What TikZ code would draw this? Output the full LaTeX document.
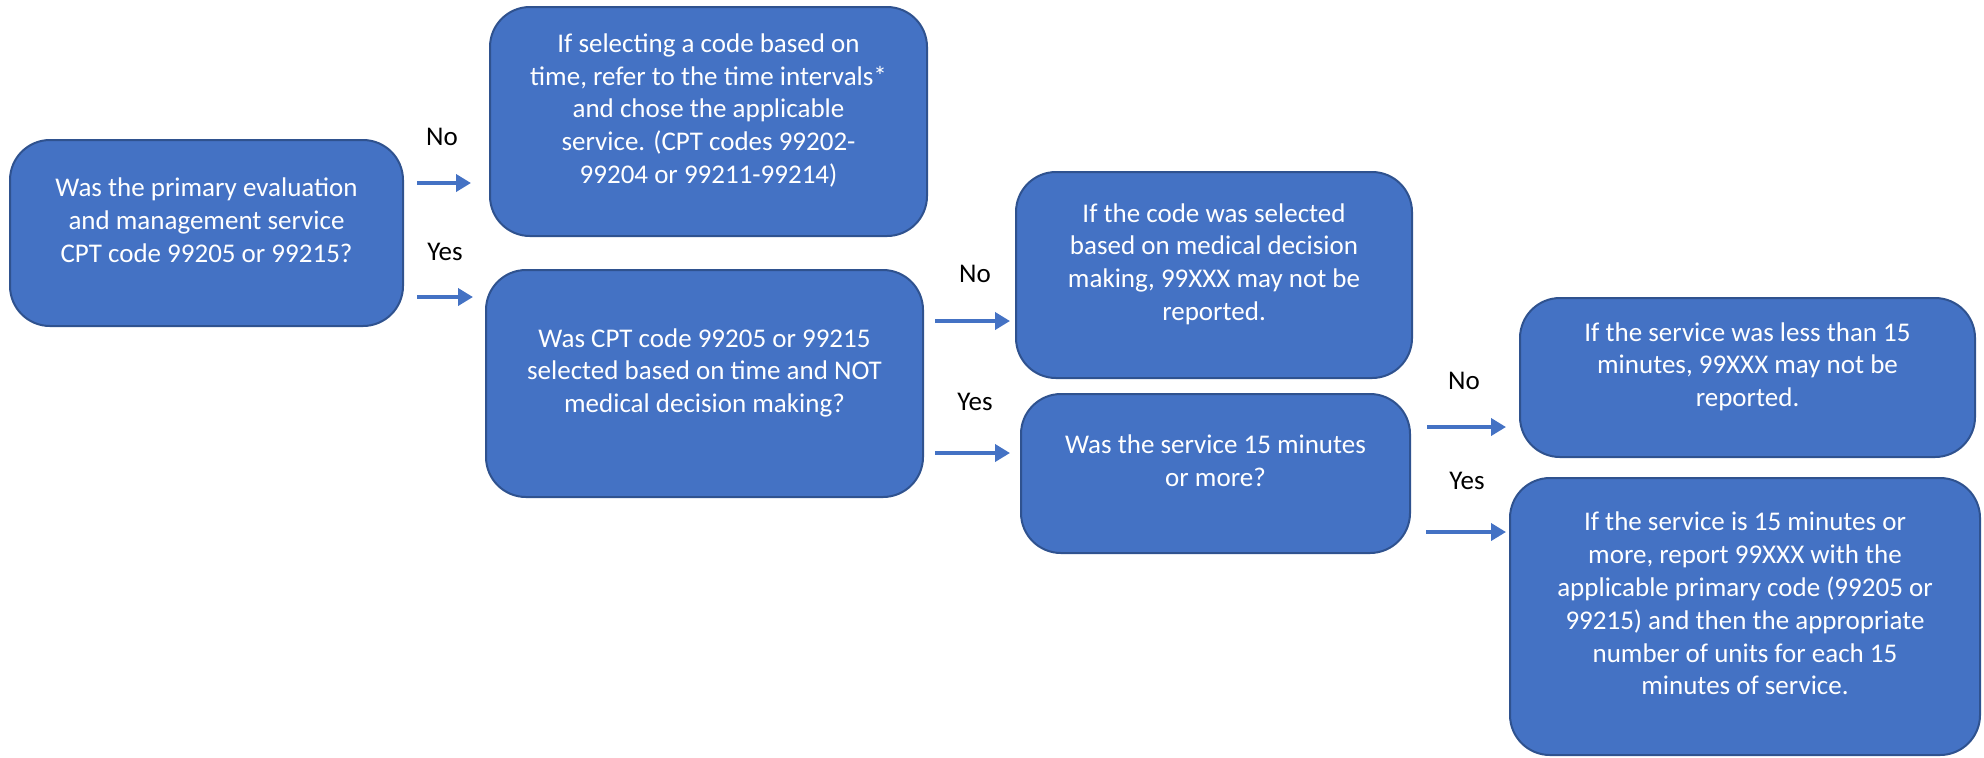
\documentclass[tikz,border=0pt]{standalone}
\usepackage{fontspec}
\setmainfont{Carlito}
\usetikzlibrary{arrows.meta}

\definecolor{boxblue}{HTML}{4472C4}
\definecolor{boxedge}{HTML}{2F528F}

\tikzset{every picture/.style={line width=0.75pt}}
\tikzset{
  qbox/.style={draw=boxedge, line width=1pt, fill=boxblue, rounded corners=20pt,
    text=white, align=center, font=\fontsize{13.5pt}{16.4pt}\selectfont, text depth=13pt},
  flow/.style={draw=boxblue, line width=2.2pt, -{Triangle[length=7.5pt,width=8.5pt]}},
  answer/.style={font=\fontsize{13.5pt}{16pt}\selectfont}
}

\begin{document}
\begin{tikzpicture}[x=0.5pt,y=0.5pt,yscale=-1,xscale=1]
	\useasboundingbox (0,0) rectangle (1984,757);

	% Boxes
	\node[qbox, minimum width=196.5pt, minimum height=93pt] (primary) at (206.5,233) {Was the primary evaluation\\and management service\\CPT code 99205 or 99215?};
	\node[qbox, minimum width=218.5pt, minimum height=114.5pt] (bytime) at (708.5,121.5) {If selecting a code based on\\time, refer to the time intervals*\\and chose the applicable\\service. (CPT codes 99202-\\99204 or 99211-99214)};
	\node[qbox, minimum width=218.5pt, minimum height=113.5pt] (timenotmdm) at (704.5,383.5) {Was CPT code 99205 or 99215\\selected based on time and NOT\\medical decision making?};
	\node[qbox, minimum width=198pt, minimum height=103pt] (mdm) at (1214,275) {If the code was selected\\based on medical decision\\making, 99XXX may not be\\reported.};
	\node[qbox, minimum width=194.5pt, minimum height=79.5pt] (fifteen) at (1215.5,473.5) {Was the service 15 minutes\\or more?};
	\node[qbox, minimum width=227.5pt, minimum height=79.5pt] (lessthan) at (1747.5,377.5) {If the service was less than 15\\minutes, 99XXX may not be\\reported.};
	\node[qbox, minimum width=235pt, minimum height=138.5pt] (report) at (1745,616.5) {If the service is 15 minutes or\\more, report 99XXX with the\\applicable primary code (99205 or\\99215) and then the appropriate\\number of units for each 15\\minutes of service.};

	% Arrows
	\draw[flow] ([xshift=6.5pt]primary.east |- 0,183) -- ([xshift=-9pt]bytime.west |- 0,183);
	\draw[flow] ([xshift=6.5pt]primary.east |- 0,297) -- ([xshift=-6pt]timenotmdm.west |- 0,297);
	\draw[flow] ([xshift=5.5pt]timenotmdm.east |- 0,321) -- ([xshift=-2.5pt]mdm.west |- 0,321);
	\draw[flow] ([xshift=5.5pt]timenotmdm.east |- 0,453) -- ([xshift=-5pt]fifteen.west |- 0,453);
	\draw[flow] ([xshift=8pt]fifteen.east |- 0,427) -- ([xshift=-6.5pt]lessthan.west |- 0,427);
	\draw[flow] ([xshift=7.5pt]fifteen.east |- 0,532) -- ([xshift=-1.5pt]report.west |- 0,532);

	% Text Node
	\node[answer] (no1) at (442,137) {No};
	% Text Node
	\node[answer] (yes1) at (445,252) {Yes};
	% Text Node
	\node[answer] (no2) at (975,274) {No};
	% Text Node
	\node[answer] (yes2) at (975,402) {Yes};
	% Text Node
	\node[answer] (no3) at (1464,381) {No};
	% Text Node
	\node[answer] (yes3) at (1467,481) {Yes};

\end{tikzpicture}
\end{document}
